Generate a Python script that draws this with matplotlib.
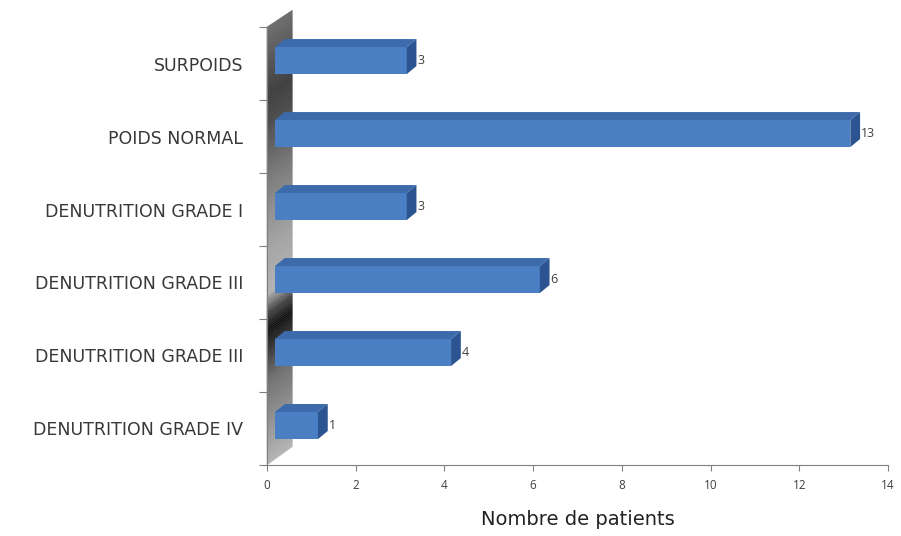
import numpy as np
import matplotlib
matplotlib.use("Agg")
import matplotlib.pyplot as plt
from matplotlib.patches import Polygon
from matplotlib.colors import LinearSegmentedColormap

# data, bottom to top
categories = ["DENUTRITION GRADE IV", "DENUTRITION GRADE III", "DENUTRITION GRADE III",
              "DENUTRITION GRADE I", "POIDS NORMAL", "SURPOIDS"]
values = [1, 4, 6, 3, 13, 3]
value_labels = ["1", "4", "6", "3", "13", "3"]
xticks = [0, 2, 4, 6, 8, 10, 12, 14]

fig = plt.figure(figsize=(9.01, 5.36), dpi=100)
ax = fig.add_axes([0.2963, 0.1325, 0.6893, 0.8171])

# 3D look parameters
x0 = 0.18
h = 0.37
dx = 0.22
dy = 0.11
front = "#4a7fc4"
top = "#3c6aab"
side = "#2b5491"

# back wall, drawn as thin slanted strips
wall_w = 0.57
cmap = LinearSegmentedColormap.from_list("wall", [
    (0.0, "#b4b4b4"), (0.08, "#959595"), (0.19, "#707070"), (0.27, "#2e2e2e"),
    (0.31, "#111111"), (0.345, "#444444"), (0.39, "#b2b2b2"), (0.5, "#a2a2a2"),
    (0.65, "#7a7a7a"), (0.78, "#4a4a4a"), (0.847, "#3c3c3c"), (0.956, "#5e5e5e"),
    (1.0, "#6a6a6a")])
n = 200
ts = np.linspace(0, 1, n + 1)
for t_a, t_b in zip(ts[:-1], ts[1:]):
    ya_l, yb_l = -0.5 + 6.0 * t_a, -0.5 + 6.0 * t_b
    ya_r, yb_r = -0.25 + 5.98 * t_a, -0.25 + 5.98 * t_b
    c = cmap((t_a + t_b) / 2)
    ax.add_patch(Polygon([(0, ya_l), (wall_w, ya_r), (wall_w, yb_r), (0, yb_l)],
                         facecolor=c, edgecolor=c, linewidth=0.3, clip_on=False, zorder=1))

ys = np.arange(len(categories))
for y, v, lab in zip(ys, values, value_labels):
    yc = y + 0.04
    x1 = v + 0.15
    ax.barh(yc, x1 - x0, left=x0, height=h, color=front, edgecolor="none", zorder=3)
    ax.add_patch(Polygon([(x0, yc + h / 2), (x1, yc + h / 2), (x1 + dx, yc + h / 2 + dy),
                          (x0 + dx, yc + h / 2 + dy)], facecolor=top, edgecolor="none", zorder=3))
    ax.add_patch(Polygon([(x1, yc - h / 2), (x1 + dx, yc - h / 2 + dy), (x1 + dx, yc + h / 2 + dy),
                          (x1, yc + h / 2)], facecolor=side, edgecolor="none", zorder=3))
    ax.text(x1 + dx + 0.02, yc, lab, va="center", ha="left", fontsize=9,
            color="#404040", family="Open Sans", zorder=4)

ax.set_xlim(0, 14)
ax.set_ylim(-0.5, 5.5)
ax.set_xticks(xticks)
ax.set_xticklabels([str(t) for t in xticks], fontsize=8.5, color="#404040", family="Open Sans")
ax.set_yticks(np.arange(-0.5, 6, 1), minor=False)
ax.set_yticklabels([])
ax.set_yticks(ys, minor=True)
ax.set_yticklabels(categories, minor=True, fontsize=12.5, color="#383838", family="DejaVu Sans")
ax.tick_params(axis="y", which="minor", length=0, pad=17)
ax.tick_params(axis="y", which="major", length=6, color="#808080")
ax.tick_params(axis="x", length=4, color="#808080", pad=6)
for s in ["top", "right"]:
    ax.spines[s].set_visible(False)
ax.spines["left"].set_color("#808080")
ax.spines["bottom"].set_color("#808080")
ax.set_xlabel("Nombre de patients", fontsize=14, family="DejaVu Sans", color="#222222", labelpad=13)

fig.savefig("out.png", dpi=100)
